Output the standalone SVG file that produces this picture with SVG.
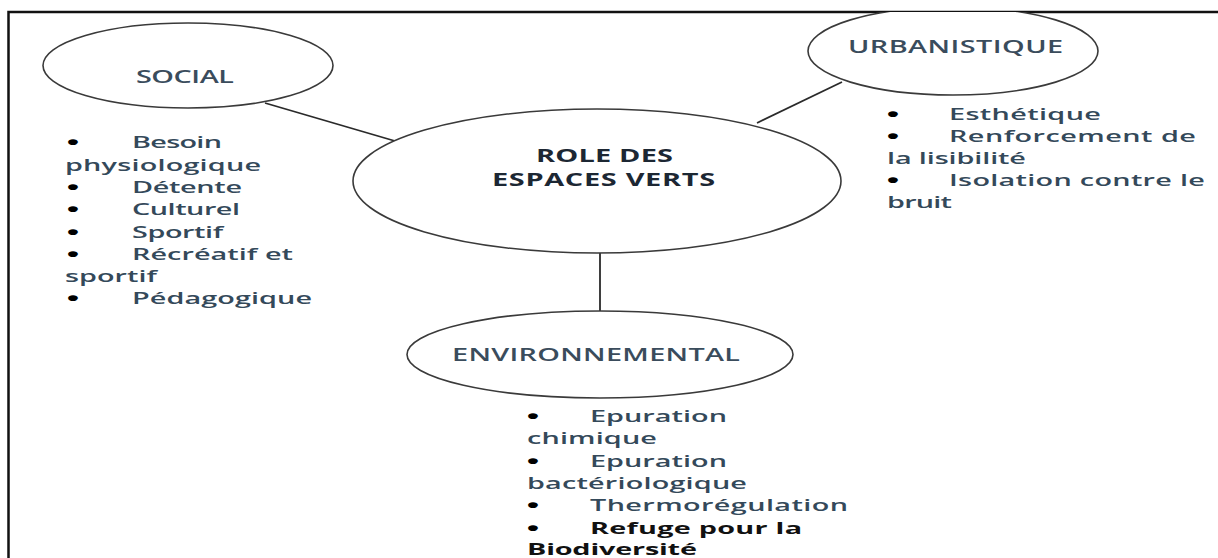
<svg xmlns="http://www.w3.org/2000/svg" width="1218" height="558" viewBox="0 0 1218 558">
<style>
.node{fill:#ffffff;stroke:#3a3a3a;stroke-width:1.6}
.conn{stroke:#2a2a2a;stroke-width:1.8;fill:none}
.lbl{font-family:"Open Sans","Liberation Sans",sans-serif;font-size:18px;font-weight:600;fill:#3a4c5c}
.main{font-family:"Open Sans","Liberation Sans",sans-serif;font-size:17px;font-weight:bold;fill:#1c2733}
.li{font-family:"Open Sans","Liberation Sans",sans-serif;font-size:16px;font-weight:600;fill:#34495a}
.lb{font-family:"Open Sans","Liberation Sans",sans-serif;font-size:16px;font-weight:bold;fill:#111111}
.bu{font-family:"Liberation Sans",sans-serif;font-size:20px;font-weight:bold;fill:#000000}
</style>
<defs>
<clipPath id="inside"><rect x="8" y="12" width="1230" height="560"/></clipPath>
</defs>
<rect x="0" y="0" width="1218" height="558" fill="#ffffff"/>
<rect x="8.5" y="12" width="1230" height="560" fill="none" stroke="#111111" stroke-width="2.5"/>

<g id="connectors">
<line class="conn" x1="265" y1="103" x2="395" y2="141"/>
<line class="conn" x1="842" y1="82" x2="757" y2="123"/>
<line class="conn" x1="600" y1="253" x2="600" y2="311"/>
</g>

<g id="node-social">
<ellipse class="node" cx="188" cy="65.5" rx="145" ry="42.5"/>
<text class="lbl" transform="matrix(1.6 0 0 1 136 83)" textLength="61.2">SOCIAL</text>
</g>

<g id="node-urbanistique" clip-path="url(#inside)">
<ellipse class="node" cx="953" cy="51" rx="145" ry="44"/>
<text class="lbl" transform="matrix(1.6 0 0 1 848 53)" textLength="134.4">URBANISTIQUE</text>
</g>

<g id="node-role">
<ellipse class="node" cx="597" cy="181" rx="244" ry="72"/>
<text class="main" transform="matrix(1.7 0 0 1 536 162)" textLength="80.6">ROLE DES</text>
<text class="main" transform="matrix(1.7 0 0 1 492 186)" textLength="131.2">ESPACES VERTS</text>
</g>

<g id="node-environnemental">
<ellipse class="node" cx="600" cy="354.5" rx="193" ry="43.5"/>
<text class="lbl" transform="matrix(1.6 0 0 1 452 361)" textLength="180">ENVIRONNEMENTAL</text>
</g>

<g id="list-social">
<text class="bu" transform="matrix(1.7 0 0 1 67 149)">•</text>
<text class="li" transform="matrix(1.8 0 0 1 132 148)" textLength="50">Besoin</text>
<text class="li" transform="matrix(1.8 0 0 1 65 170.5)" textLength="108.9">physiologique</text>
<text class="bu" transform="matrix(1.7 0 0 1 67 194)">•</text>
<text class="li" transform="matrix(1.8 0 0 1 132 193)" textLength="61.1">Détente</text>
<text class="bu" transform="matrix(1.7 0 0 1 67 216)">•</text>
<text class="li" transform="matrix(1.8 0 0 1 132 215)" textLength="60">Culturel</text>
<text class="bu" transform="matrix(1.7 0 0 1 67 238.5)">•</text>
<text class="li" transform="matrix(1.8 0 0 1 132 237.5)" textLength="50.6">Sportif</text>
<text class="bu" transform="matrix(1.7 0 0 1 67 261)">•</text>
<text class="li" transform="matrix(1.8 0 0 1 132 260)" textLength="89.4">Récréatif et</text>
<text class="li" transform="matrix(1.8 0 0 1 65 282)" textLength="51.1">sportif</text>
<text class="bu" transform="matrix(1.7 0 0 1 67 305)">•</text>
<text class="li" transform="matrix(1.8 0 0 1 132 304)" textLength="100">Pédagogique</text>
</g>

<g id="list-urbanistique">
<text class="bu" transform="matrix(1.7 0 0 1 887 120.5)">•</text>
<text class="li" transform="matrix(1.8 0 0 1 949 119.5)" textLength="84.4">Esthétique</text>
<text class="bu" transform="matrix(1.7 0 0 1 887 142.5)">•</text>
<text class="li" transform="matrix(1.8 0 0 1 949 141.5)" textLength="137.2">Renforcement de</text>
<text class="li" transform="matrix(1.8 0 0 1 887 163.5)" textLength="77.2">la lisibilité</text>
<text class="bu" transform="matrix(1.7 0 0 1 887 186.5)">•</text>
<text class="li" transform="matrix(1.8 0 0 1 949 185.5)" textLength="142.2">Isolation contre le</text>
<text class="li" transform="matrix(1.8 0 0 1 887 207.5)" textLength="36.1">bruit</text>
</g>

<g id="list-environnemental">
<text class="bu" transform="matrix(1.7 0 0 1 527 423)">•</text>
<text class="li" transform="matrix(1.8 0 0 1 590 422)" textLength="76.1">Epuration</text>
<text class="li" transform="matrix(1.8 0 0 1 527 444.3)" textLength="72.2">chimique</text>
<text class="bu" transform="matrix(1.7 0 0 1 527 467.6)">•</text>
<text class="li" transform="matrix(1.8 0 0 1 590 466.6)" textLength="76.1">Epuration</text>
<text class="li" transform="matrix(1.8 0 0 1 527 488.9)" textLength="122.2">bactériologique</text>
<text class="bu" transform="matrix(1.7 0 0 1 527 512.2)">•</text>
<text class="li" transform="matrix(1.8 0 0 1 590 511.2)" textLength="143.3">Thermorégulation</text>
<text class="bu" transform="matrix(1.7 0 0 1 527 534.5)">•</text>
<text class="lb" transform="matrix(1.8 0 0 1 590 533.5)" textLength="117.8">Refuge pour la</text>
<text class="lb" transform="matrix(1.8 0 0 1 527 555)" textLength="94.4">Biodiversité</text>
</g>
</svg>
